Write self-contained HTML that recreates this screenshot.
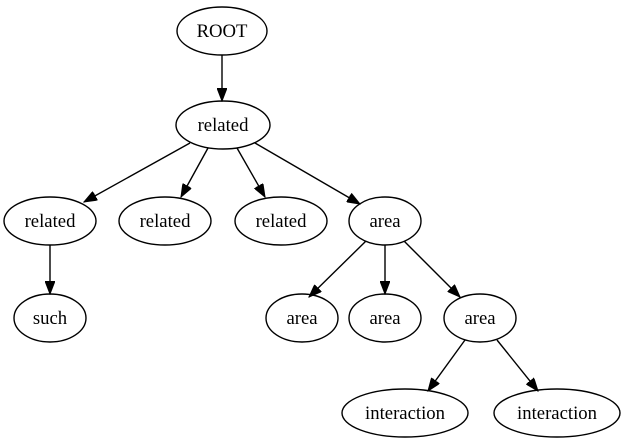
<!DOCTYPE html>
<html><head><meta charset="utf-8"><style>html,body{margin:0;padding:0;background:#fff}svg{display:block}</style></head>
<body>
<svg width="627" height="443" viewBox="0 0 627 443" xmlns="http://www.w3.org/2000/svg">
<defs><marker id="a" markerUnits="userSpaceOnUse" markerWidth="14" markerHeight="10" refX="13" refY="5" orient="auto"><path d="M0,0 L13,5 L0,10 Z" fill="#000" stroke="#000"/></marker></defs>
<g fill="none" stroke="#000" stroke-width="1.4">
<ellipse cx="222" cy="31" rx="45" ry="24"/>
<ellipse cx="223" cy="125" rx="47" ry="24"/>
<ellipse cx="50" cy="221" rx="46" ry="24"/>
<ellipse cx="165" cy="221" rx="46" ry="24"/>
<ellipse cx="281" cy="221" rx="46" ry="24"/>
<ellipse cx="385" cy="221" rx="36" ry="24"/>
<ellipse cx="50" cy="318" rx="36" ry="24"/>
<ellipse cx="302" cy="318" rx="36" ry="24"/>
<ellipse cx="385" cy="318" rx="36" ry="24"/>
<ellipse cx="480" cy="318" rx="36" ry="24"/>
<ellipse cx="405" cy="413" rx="63" ry="24"/>
<ellipse cx="557" cy="413" rx="63" ry="24"/>
</g>
<g stroke="#000" stroke-width="1.4" marker-end="url(#a)">
<line x1="222" y1="55" x2="222" y2="101"/>
<line x1="190" y1="143" x2="84" y2="202"/>
<line x1="208" y1="148" x2="181" y2="197"/>
<line x1="237" y1="148" x2="265" y2="197"/>
<line x1="255" y1="143" x2="360" y2="204"/>
<line x1="50" y1="245" x2="50" y2="294"/>
<line x1="366" y1="241" x2="309" y2="297"/>
<line x1="385" y1="245" x2="385" y2="294"/>
<line x1="404" y1="241" x2="460" y2="297"/>
<line x1="465" y1="340" x2="428" y2="391"/>
<line x1="497" y1="340" x2="538" y2="391"/>
</g>
<g font-family="Liberation Serif, serif" font-size="18.7" text-anchor="middle" fill="#000">
<text x="222" y="37">ROOT</text>
<text x="223" y="131">related</text>
<text x="50" y="227">related</text>
<text x="165" y="227">related</text>
<text x="281" y="227">related</text>
<text x="385" y="227">area</text>
<text x="50" y="324">such</text>
<text x="302" y="324">area</text>
<text x="385" y="324">area</text>
<text x="480" y="324">area</text>
<text x="405" y="419">interaction</text>
<text x="557" y="419">interaction</text>
</g>
</svg>
</body></html>
